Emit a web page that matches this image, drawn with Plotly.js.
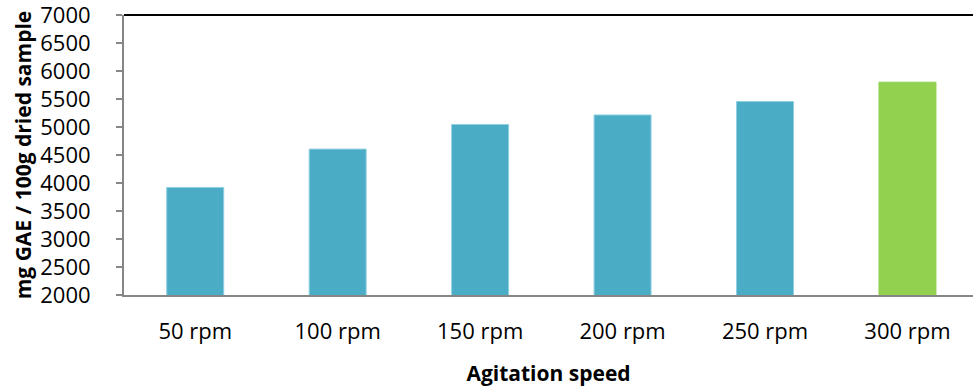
<!DOCTYPE html>
<html>
<head>
<meta charset="utf-8">
<script src="https://cdn.plot.ly/plotly-3.0.1.min.js"></script>
<style>html,body{margin:0;padding:0;background:#fff;}#chart{width:973px;height:390px;}</style>
</head>
<body>
<div id="chart"></div>
<script>
const categories = ["50 rpm", "100 rpm", "150 rpm", "200 rpm", "250 rpm", "300 rpm"];
const values = [3920, 4605, 5045, 5215, 5455, 5800];
const barColors = ["#4BACC6", "#4BACC6", "#4BACC6", "#4BACC6", "#4BACC6", "#92D050"];
const edgeColors = ["#8ECFE0", "#8ECFE0", "#8ECFE0", "#8ECFE0", "#8ECFE0", "#92D050"];
const yTicks = [2000, 2500, 3000, 3500, 4000, 4500, 5000, 5500, 6000, 6500, 7000];

const trace = {
  type: "bar",
  x: categories,
  y: values,
  base: 0,
  marker: { color: barColors, line: { color: edgeColors, width: 1 } },
  hoverinfo: "skip"
};

const layout = {
  width: 973, height: 390,
  margin: { l: 124, r: 0, t: 15, b: 95, pad: 0 },
  paper_bgcolor: "#ffffff", plot_bgcolor: "#ffffff",
  bargap: 0.6,
  showlegend: false,
  font: { family: "Open Sans, sans-serif", color: "#000000" },
  xaxis: {
    type: "category",
    range: [-0.5, 5.46],
    showline: true, linecolor: "#868686", linewidth: 2,
    ticks: "", showgrid: false, zeroline: false,
    tickfont: { size: 22, family: "Open Sans, sans-serif", color: "#000" },
    ticklabelstandoff: 16,
    title: { text: "<b>Agitation speed</b>", font: { size: 21, family: "Open Sans, sans-serif", color: "#000" }, standoff: 22 }
  },
  yaxis: {
    range: [2000, 7000.01],
    tickvals: yTicks,
    ticktext: yTicks.map(String),
    showline: true, linecolor: "#868686", linewidth: 2,
    ticks: "outside", ticklen: 6, tickwidth: 2, tickcolor: "#868686",
    showgrid: false, zeroline: false,
    tickfont: { size: 22, family: "Open Sans, sans-serif", color: "#000" },
    ticklabelstandoff: 21,
    ticklabeloverflow: "allow",
    title: { text: "<b>mg GAE / 100g dried sample</b>", font: { size: 21, family: "Open Sans, sans-serif", color: "#000" }, standoff: 3 }
  },
  shapes: [{
    type: "line", xref: "paper", yref: "paper",
    x0: 0, x1: 1, y0: 1, y1: 1,
    line: { color: "#000000", width: 2 }
  }]
};

Plotly.newPlot("chart", [trace], layout, { staticPlot: true, displayModeBar: false });
</script>
</body>
</html>
